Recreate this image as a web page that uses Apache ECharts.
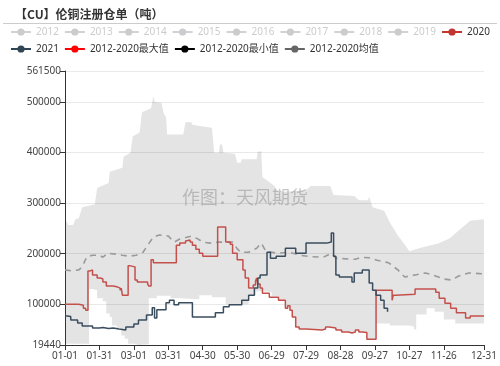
<!DOCTYPE html>
<html>
<head>
<meta charset="utf-8">
<script src="https://cdn.jsdelivr.net/npm/echarts@6/dist/echarts.min.js"></script>
<style>
html,body{margin:0;padding:0;background:#fff;}
#c{width:500px;height:366px;}
</style>
</head>
<body>
<div id="c"></div>
<script>
// ---- data (x = day index in a leap year, 0 = 01-01) ----
const yearNames = ['2012','2013','2014','2015','2016','2017','2018','2019','2020'];
const hiddenYears = ['2012','2013','2014','2015','2016','2017','2018','2019'];

const y2020 = [[0,100000],[12,98000],[16,92000],[18,88000],[20,166000],[22,168000],[24,158000],[28,152000],[31,150000],[33,144000],[36,136000],[42,134000],[46,132000],[48,128000],[49,132000],[50,118000],[55,176000],[57,174000],[61,148000],[63,144000],[72,140000],[73,136000],[75,188000],[77,182000],[97,217000],[100,221000],[105,225000],[106,227000],[109,223000],[111,217000],[114,209000],[117,201000],[120,195000],[133,253000],[140,223000],[144,219000],[146,201000],[150,188000],[155,168000],[157,152000],[160,132000],[164,138000],[166,146000],[167,152000],[168,140000],[170,132000],[172,122000],[178,114000],[186,108000],[192,92000],[194,97000],[196,88000],[198,75000],[201,55000],[204,51000],[210,49000],[224,51000],[227,55000],[230,53000],[236,49000],[241,45000],[247,43000],[250,45000],[253,49000],[256,45000],[259,44000],[263,31000],[271,128000],[285,108000],[286,118000],[288,120000],[305,130000],[323,124000],[326,112000],[331,102000],[336,92000],[341,83000],[349,73000],[353,77000],[365,77000]];

const y2021 = [[0,77000],[2,76000],[5,69000],[11,63000],[15,57000],[24,53000],[30,54000],[33,52000],[38,53000],[42,51000],[47,49000],[53,55000],[60,61000],[64,69000],[71,79000],[76,93000],[78,73000],[80,89000],[88,103000],[91,108000],[95,99000],[99,103000],[111,75000],[131,83000],[138,95000],[143,99000],[154,108000],[160,118000],[165,132000],[168,152000],[170,158000],[176,203000],[179,191000],[184,195000],[192,211000],[201,201000],[210,221000],[228,223000],[232,241000],[234,195000],[236,158000],[239,154000],[250,144000],[252,162000],[259,168000],[265,142000],[268,128000],[271,118000],[275,108000],[278,92000],[281,85000]];

const meanVals = [[0,168000],[6,166000],[12,168000],[15,174000],[19,194000],[24,197000],[30,197000],[33,193000],[37,201000],[45,199000],[50,197000],[56,195000],[62,197000],[68,203000],[73,220000],[77,233000],[82,237000],[90,235000],[95,223000],[100,229000],[110,235000],[116,229000],[120,223000],[127,221000],[134,223000],[146,223000],[150,210000],[153,203000],[160,203000],[167,211000],[171,221000],[175,205000],[185,201000],[195,203000],[205,197000],[215,194000],[225,193000],[232,201000],[236,191000],[253,189000],[258,193000],[265,192000],[272,187000],[282,182000],[290,168000],[296,154000],[305,158000],[314,162000],[320,158000],[330,150000],[337,148000],[343,156000],[352,162000],[365,160000]];

const maxVals = [[0,267000],[2,262000],[3,257000],[7,257000],[9,268000],[12,270000],[15,292000],[26,298000],[28,330000],[38,340000],[39,362000],[50,370000],[51,392000],[57,400000],[59,432000],[65,440000],[67,480000],[75,488000],[77,512000],[78,500000],[84,498000],[86,478000],[88,470000],[89,436000],[103,436000],[105,460000],[110,460000],[111,455000],[119,452000],[128,449000],[130,400000],[134,400000],[135,416000],[137,416000],[138,400000],[148,398000],[150,380000],[153,380000],[154,387000],[167,387000],[168,402000],[171,402000],[172,352000],[176,345000],[182,335000],[186,322000],[210,325000],[214,334000],[231,334000],[234,316000],[252,314000],[256,306000],[264,306000],[265,313000],[266,306000],[268,292000],[278,285000],[283,262000],[290,236000],[297,215000],[300,205000],[310,212000],[325,220000],[335,230000],[345,250000],[353,265000],[365,268000]];

const minVals = [[0,22000],[21,130000],[24,128000],[28,112000],[33,106000],[36,82000],[39,75000],[41,58000],[45,52000],[49,38000],[52,32000],[55,22000],[60,19440],[64,21000],[73,112000],[80,117000],[92,112000],[100,110000],[117,118000],[128,114000],[140,100000],[160,118000],[166,126000],[172,124000],[180,116000],[186,108000],[192,92000],[194,97000],[196,88000],[198,75000],[201,55000],[204,51000],[210,49000],[224,51000],[227,55000],[230,53000],[236,49000],[241,45000],[247,43000],[250,45000],[253,49000],[256,45000],[259,44000],[263,31000],[271,62000],[283,58000],[300,56000],[304,50000],[306,80000],[315,92000],[322,85000],[330,70000],[340,62000],[365,60000]];

const yMin = 19440, yMax = 561500;

// categories: MM-DD for a leap year
const days = [];
(function(){
  const ml = [31,29,31,30,31,30,31,31,30,31,30,31];
  for (let m = 0; m < 12; m++) for (let d = 1; d <= ml[m]; d++)
    days.push(String(m+1).padStart(2,'0') + '-' + String(d).padStart(2,'0'));
})();
const showIdx = (i) => (i % 30 === 0 && i <= 330) || i === days.length - 1;

const FONT = '"Noto Sans", "Noto Sans CJK SC", sans-serif';
const TFONT = '"Noto Sans CJK SC", sans-serif';

const chart = echarts.init(document.getElementById('c'), null, {renderer:'canvas'});

const series = [];
hiddenYears.forEach(n => series.push({name:n, type:'line', data:[], symbol:'circle', showSymbol:false}));
series.push({
  name:'2012-2020最大值', type:'line', data:maxVals, symbol:'circle', showSymbol:false, z:1,
  itemStyle:{color:'#ff0000'}, lineStyle:{width:0, opacity:0},
  areaStyle:{color:'#e4e4e4', opacity:1, origin:'start'}
});
series.push({
  name:'2012-2020最小值', type:'line', data:minVals, step:'end', symbol:'circle', showSymbol:false, z:1,
  itemStyle:{color:'#000000'}, lineStyle:{width:0, opacity:0},
  areaStyle:{color:'#ffffff', opacity:1, origin:'start'}
});
series.push({
  name:'2012-2020均值', type:'line', data:meanVals, symbol:'circle', showSymbol:false, z:3,
  itemStyle:{color:'#666666'}, lineStyle:{color:'#9a9a9a', width:1.6, type:[6,5]}
});
series.push({
  name:'2020', type:'line', data:y2020, step:'end', symbol:'circle', showSymbol:false, z:4,
  itemStyle:{color:'#c23531'}, lineStyle:{color:'#c4504c', width:1.5}
});
series.push({
  name:'2021', type:'line', data:y2021, step:'end', symbol:'circle', showSymbol:false, z:5,
  itemStyle:{color:'#2f4554'}, lineStyle:{color:'#3a4d5e', width:1.5}
});

const selected = {};
hiddenYears.forEach(n => selected[n] = false);

const legendCommon = {
  left: 10, width: 490, padding: 0, itemWidth: 20, itemHeight: 9, itemGap: 5,
  inactiveColor: '#cccccc',
  textStyle: {fontSize: 10, color: '#333', fontFamily: FONT},
  lineStyle: {width: 2, opacity: 1},
  selected: selected
};

const legendItems2 = [
  {name:'2021', lineStyle:{color:'#2f4554', width:2, opacity:1}},
  {name:'2012-2020最大值', itemStyle:{color:'#ff0000'}, lineStyle:{color:'#ff0000', width:2, opacity:1}},
  {name:'2012-2020最小值', itemStyle:{color:'#000000'}, lineStyle:{color:'#000000', width:2, opacity:1}},
  {name:'2012-2020均值', itemStyle:{color:'#666666'}, lineStyle:{color:'#666666', width:2, opacity:1, type:'solid'}}
];
const legendItems1 = yearNames.map(n => n === '2020'
  ? {name:n, lineStyle:{color:'#c23531', width:2, opacity:1}}
  : {name:n});

chart.setOption({
  animation: false,
  backgroundColor: '#fff',
  title: {
    text: '【CU】伦铜注册仓单（吨）', left: 10, top: 3,
    textStyle: {fontSize: 12, fontWeight: 'bold', color: '#333', fontFamily: TFONT}
  },
  legend: [
    Object.assign({}, legendCommon, {top: 27, data: legendItems1}),
    Object.assign({}, legendCommon, {top: 44, data: legendItems2})
  ],
  grid: {left: 65, right: 15, top: 71, bottom: 21},
  xAxis: {
    type: 'category', data: days, boundaryGap: false, z: 6,
    axisLine: {lineStyle: {color: '#333'}},
    axisTick: {interval: showIdx, length: 5, lineStyle: {color: '#333'}},
    axisLabel: {interval: showIdx, fontSize: 10, color: '#444', fontFamily: FONT, margin: 6}
  },
  yAxis: {
    type: 'value', min: yMin, max: yMax, z: 2,
    axisLine: {show: true, lineStyle: {color: '#333'}},
    axisTick: {show: true, length: 5, lineStyle: {color: '#333'}},
    axisLabel: {fontSize: 10, color: '#444', fontFamily: FONT, margin: 4,
      showMinLabel: true, showMaxLabel: true, formatter: v => String(v)},
    splitLine: {lineStyle: {color: 'rgba(0,0,0,0.085)'}}
  },
  graphic: [
    {type:'line', shape:{x1:3, y1:23.5, x2:497, y2:23.5}, style:{stroke:'#cccccc', lineWidth:1}, z: 10},
    {type:'text', left: 182, top: 188, z: 3,
     style:{text:'作图：天风期货', fontSize: 18, fill:'rgba(130,130,130,0.45)', fontFamily: TFONT}}
  ],
  series: series
});
</script>
</body>
</html>
